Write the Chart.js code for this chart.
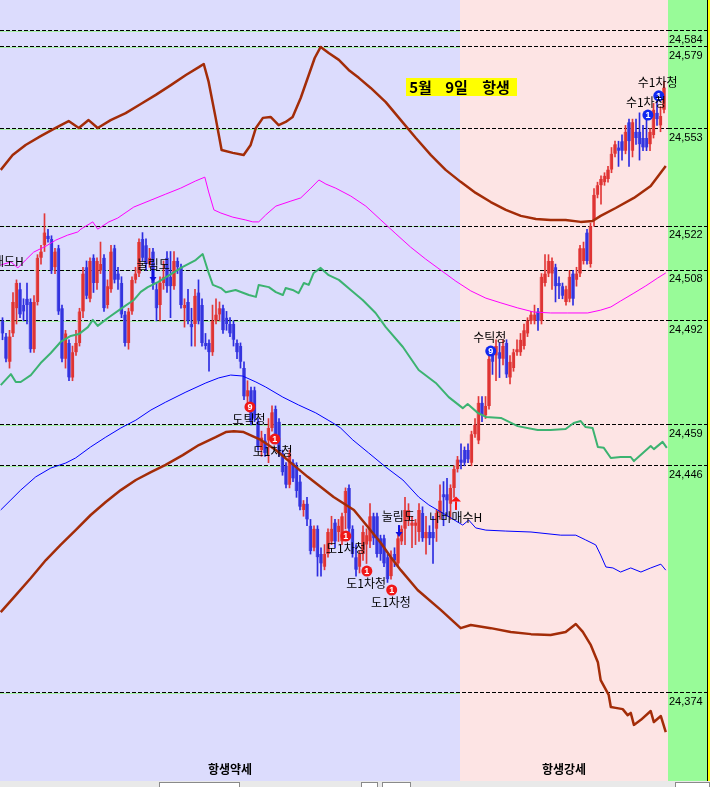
<!DOCTYPE html>
<html>
<head>
<meta charset="utf-8">
<script src="https://cdn.jsdelivr.net/npm/chart.js@4.4.1/dist/chart.umd.min.js"></script>
<style>
  html, body { margin: 0; padding: 0; background: #fff; overflow: hidden; }
  #wrap { width: 710px; height: 781px; }
  #tb { position: relative; width: 710px; height: 6px; background: #e9e9e9; overflow: hidden; }
  #tb span { position: absolute; top: 1px; height: 8px; background: #fff; border: 1px solid #8a8a8a; box-sizing: border-box; }
</style>
</head>
<body>
<div id="wrap"><canvas id="chart" width="710" height="781"></canvas></div>
<div id="tb">
  <span style="left:159px;width:81px"></span>
  <span style="left:361px;width:17px"></span>
  <span style="left:382px;width:29px"></span>
  <span style="left:675px;width:35px"></span>
</div>
<script>
// candles, one per bar (index 0..189)
const opens = [24492,24487,24479,24488,24496,24502,24497,24499,24498,24483,24498,24512,24516,24519,24518,24509,24515,24496,24480,24485,
  24474,24482,24485,24495,24509,24499,24512,24504,24508,24512,24497,24502,24515,24507,24504,24494,24485,24495,24505,24507,
  24518,24516,24510,24514,24502,24497,24504,24512,24506,24503,24511,24509,24496,24498,24491,24491,24501,24497,24485,24485,
  24482,24492,24494,24496,24493,24491,24491,24485,24484,24477,24468,24470,24470,24460,24451,24454,24454,24458,24464,24460,
  24450,24446,24440,24447,24446,24441,24432,24434,24427,24420,24426,24418,24414,24418,24422,24428,24425,24422,24431,24439,
  24426,24417,24414,24418,24421,24422,24430,24430,24423,24423,24417,24411,24418,24415,24422,24426,24429,24427,24427,24425,
  24431,24423,24425,24425,24426,24431,24437,24437,24434,24439,24445,24448,24451,24451,24447,24456,24454,24466,24462,24465,
  24482,24481,24482,24480,24485,24474,24477,24482,24482,24484,24488,24492,24492,24495,24492,24504,24507,24507,24509,24504,
  24503,24498,24499,24507,24505,24507,24511,24520,24510,24524,24532,24535,24536,24537,24540,24545,24547,24549,24546,24555,
  24546,24552,24552,24550,24550,24548,24551,24558,24554,24559];
const highs = [24493,24488,24489,24501,24505,24504,24499,24504,24499,24500,24513,24516,24526,24521,24519,24515,24516,24497,24489,24486,
  24484,24489,24496,24509,24511,24512,24513,24512,24517,24513,24505,24516,24516,24509,24506,24495,24496,24506,24509,24518,
  24520,24518,24515,24515,24504,24506,24511,24514,24514,24514,24512,24510,24499,24502,24496,24502,24505,24499,24488,24486,
  24497,24499,24498,24497,24495,24493,24492,24486,24485,24479,24473,24471,24471,24461,24457,24456,24461,24465,24465,24461,
  24451,24447,24451,24448,24447,24443,24435,24436,24429,24427,24427,24420,24421,24426,24430,24429,24429,24431,24439,24440,
  24427,24421,24419,24427,24426,24434,24431,24431,24424,24424,24418,24419,24420,24424,24427,24436,24434,24430,24429,24434,
  24433,24430,24427,24430,24432,24440,24441,24442,24440,24446,24449,24453,24452,24453,24457,24461,24468,24468,24468,24481,
  24483,24486,24485,24486,24486,24481,24483,24486,24488,24491,24493,24495,24497,24496,24507,24513,24513,24512,24510,24506,
  24504,24503,24508,24508,24509,24516,24517,24521,24523,24534,24536,24538,24539,24541,24547,24549,24549,24551,24554,24556,
  24556,24556,24558,24554,24557,24553,24561,24562,24560,24568];
const lows = [24486,24479,24477,24487,24491,24493,24492,24491,24482,24482,24497,24510,24514,24517,24507,24507,24494,24479,24477,24473,
  24473,24481,24484,24493,24499,24498,24501,24502,24507,24495,24496,24501,24504,24502,24493,24484,24483,24494,24504,24506,
  24511,24508,24509,24502,24492,24492,24502,24501,24493,24502,24507,24496,24490,24491,24484,24484,24491,24484,24483,24476,
  24481,24491,24492,24488,24489,24487,24484,24480,24477,24467,24466,24459,24460,24451,24449,24449,24447,24457,24453,24449,
  24443,24439,24439,24441,24436,24432,24430,24427,24418,24419,24411,24411,24413,24417,24421,24420,24422,24421,24426,24425,
  24417,24411,24412,24416,24415,24420,24421,24417,24416,24414,24409,24410,24414,24414,24421,24421,24427,24420,24421,24422,
  24422,24418,24421,24415,24422,24429,24427,24430,24429,24436,24444,24445,24446,24447,24446,24455,24453,24460,24461,24464,
  24475,24473,24474,24478,24474,24472,24476,24481,24481,24483,24487,24491,24491,24489,24491,24503,24506,24502,24498,24499,
  24499,24497,24498,24497,24503,24506,24510,24510,24509,24522,24531,24529,24535,24536,24539,24544,24541,24543,24545,24541,
  24544,24548,24543,24546,24546,24546,24550,24554,24552,24558];
const closes = [24488,24480,24487,24498,24504,24494,24495,24497,24483,24498,24512,24514,24520,24518,24508,24514,24495,24480,24488,24474,
  24482,24485,24495,24507,24500,24511,24504,24511,24510,24496,24503,24514,24505,24505,24494,24485,24495,24505,24507,24517,
  24512,24510,24512,24504,24496,24504,24506,24503,24503,24511,24509,24497,24497,24492,24490,24500,24492,24485,24484,24482,
  24492,24494,24496,24489,24491,24488,24486,24482,24479,24468,24470,24460,24461,24452,24455,24450,24458,24463,24454,24450,
  24444,24440,24450,24442,24438,24433,24434,24429,24419,24426,24417,24415,24418,24425,24426,24422,24427,24430,24438,24426,
  24418,24413,24418,24425,24424,24430,24423,24418,24418,24415,24410,24417,24416,24423,24426,24432,24432,24428,24428,24432,
  24423,24425,24423,24423,24431,24435,24436,24435,24439,24445,24448,24447,24447,24448,24456,24459,24466,24462,24465,24480,
  24479,24484,24480,24484,24475,24479,24482,24483,24486,24489,24492,24494,24494,24492,24506,24507,24511,24511,24503,24503,
  24500,24502,24506,24499,24507,24515,24515,24511,24522,24532,24535,24537,24538,24540,24545,24548,24546,24546,24552,24549,
  24555,24550,24548,24547,24547,24552,24559,24556,24557,24566];

// indicator lines as [bar index, price]
const upperBand = [[-0.5,24539.9],[2.9,24544.6],[6.6,24547.8],[10.9,24550.6],[15.2,24553.2],[18.9,24555.4],[21.8,24553.2],[24.6,24555.7],
  [27.2,24553.2],[30.9,24555.7],[35.2,24557.9],[39.5,24560.8],[43.8,24563.7],[48.1,24566.8],[52.4,24570.0],[56.1,24572.5],[57.5,24573.5],
  [58.9,24567.8],[60.9,24556.4],[62.6,24546.2],[65.8,24545.3],[68.9,24544.6],[70.9,24547.8],[72.4,24553.2],[74.4,24556.4],[76.6,24556.7],
  [78.9,24554.1],[80.9,24555.1],[82.9,24556.7],[85.2,24562.7],[87.5,24570.0],[89.2,24575.4],[90.9,24578.9],[93.2,24577.0],[96.1,24574.8],
  [98.9,24571.6],[101.8,24569.1],[105.2,24565.9],[109.5,24561.4],[113.8,24555.7],[118.1,24550.0],[122.4,24544.6],[126.6,24539.9],
  [130.9,24536.1],[135.2,24532.6],[139.5,24529.7],[143.8,24527.2],[148.1,24525.3],[152.4,24524.3],[156.6,24524.0],[160.9,24524.0],
  [165.2,24523.4],[168.6,24523.7],[170.9,24525.3],[175.2,24527.8],[180.4,24531.0],[185.2,24534.8],[189.5,24541.1]];
const pinkLine = [[-0.5,24509.7],[2.4,24510.7],[4.4,24508.8],[6.6,24511.3],[8.9,24513.8],[12.4,24515.7],[15.2,24517.6],[18.6,24519.2],
  [21.5,24520.2],[22.4,24521.1],[25.8,24523.4],[27.2,24521.1],[30.4,24523.4],[32.9,24524.6],[37.5,24528.1],[42.4,24530.3],[46.6,24532.2],
  [50.9,24534.1],[55.2,24536.4],[57.8,24537.6],[58.9,24532.9],[60.4,24527.2],[62.4,24526.2],[65.8,24524.9],[69.5,24524.0],[71.5,24523.4],
  [73.2,24523.4],[75.2,24525.6],[78.1,24528.4],[82.4,24530.0],[85.2,24531.0],[88.1,24534.1],[90.4,24536.7],[92.4,24535.4],[95.2,24534.1],
  [99.5,24531.6],[103.8,24528.4],[108.1,24524.0],[112.4,24519.6],[116.6,24515.4],[120.9,24511.6],[125.2,24508.1],[129.5,24504.6],
  [133.8,24501.5],[138.1,24499.2],[142.4,24497.7],[147.2,24496.1],[151.8,24494.8],[156.6,24494.5],[161.5,24494.5],[167.2,24494.5],
  [170.9,24495.4],[173.8,24496.4],[176.6,24498.3],[180.4,24500.8],[183.8,24503.1],[187.2,24505.6],[189.5,24507.2]];
const greenLine = [[-0.5,24471.6],[2.4,24475.1],[3.8,24472.6],[5.2,24472.6],[8.1,24474.8],[10.9,24478.6],[13.8,24481.8],[16.6,24485.3],
  [19.5,24487.2],[21.8,24487.8],[24.4,24490.0],[25.8,24492.3],[27.2,24490.4],[30.1,24492.9],[33.8,24495.8],[37.5,24498.6],[39.5,24501.2],
  [41.5,24502.7],[44.4,24504.3],[47.2,24506.2],[51.5,24509.1],[55.2,24511.3],[57.2,24513.2],[58.9,24507.2],[60.1,24503.4],[62.4,24502.4],
  [63.8,24501.1],[66.6,24501.8],[70.4,24500.2],[72.4,24499.6],[73.2,24503.4],[76.1,24502.7],[78.1,24501.1],[80.1,24500.2],[80.9,24502.4],
  [82.9,24501.8],[84.6,24500.8],[86.1,24504.0],[87.5,24503.4],[88.9,24507.2],[90.9,24508.8],[93.2,24506.5],[96.1,24505.0],[99.5,24501.8],
  [102.9,24498.6],[106.6,24494.5],[109.5,24490.0],[114.4,24483.7],[118.9,24476.4],[123.8,24472.3],[127.5,24467.8],[131.5,24464.3],
  [132.9,24465.6],[135.8,24462.8],[138.1,24461.5],[142.4,24461.2],[147.2,24458.6],[152.9,24457.4],[156.6,24457.4],[160.9,24457.7],
  [163.2,24459.6],[165.2,24460.2],[166.6,24458.3],[168.6,24458.0],[170.1,24452.0],[171.8,24451.7],[173.8,24448.5],[176.6,24448.8],
  [179.5,24448.8],[180.4,24447.5],[185.2,24452.3],[186.1,24451.3],[188.6,24453.6],[189.8,24451.7]];
const blueLine = [[-0.5,24432.0],[2.4,24435.2],[5.2,24438.3],[9.5,24442.5],[13.8,24445.3],[18.1,24446.9],[20.9,24448.5],[25.2,24452.0],
  [29.5,24455.1],[33.8,24458.0],[38.1,24460.5],[42.4,24463.7],[46.6,24466.2],[52.4,24469.4],[58.1,24472.3],[61.8,24473.9],[65.2,24474.8],
  [68.6,24474.5],[72.4,24472.6],[75.2,24471.0],[80.1,24467.8],[84.6,24465.3],[89.5,24462.8],[94.4,24459.6],[96.6,24458.0],[100.1,24454.2],
  [104.6,24450.1],[109.5,24445.6],[114.4,24441.5],[118.9,24436.1],[121.8,24433.6],[125.8,24431.0],[131.5,24427.2],[133.2,24428.8],
  [135.2,24426.3],[138.1,24425.6],[143.8,24425.3],[151.0,24425.0],[159.5,24424.0],[163.8,24424.0],[166.6,24422.5],[169.5,24420.9],
  [170.9,24417.7],[172.4,24413.9],[174.4,24413.6],[176.6,24412.3],[179.5,24413.6],[182.4,24412.3],[185.2,24413.6],[188.1,24414.8],
  [189.5,24412.9]];
const lowerBand = [[-0.5,24399.6],[3.8,24405.0],[8.1,24410.4],[12.4,24416.1],[16.6,24420.9],[20.9,24425.6],[25.2,24430.4],[29.5,24434.5],
  [33.8,24438.3],[38.1,24441.5],[42.4,24444.0],[46.6,24446.3],[51.5,24449.4],[56.1,24452.6],[60.9,24455.1],[63.8,24456.7],[66.1,24457.0],
  [68.9,24456.7],[73.8,24454.2],[78.1,24451.0],[81.5,24447.8],[87.2,24442.5],[94.6,24436.1],[100.4,24432.0],[104.4,24426.6],[108.1,24421.5],
  [110.9,24417.1],[113.8,24412.9],[118.6,24406.6],[125.2,24400.3],[130.9,24394.5],[133.8,24395.5],[139.5,24394.5],[145.2,24393.3],
  [151.0,24392.6],[156.6,24392.3],[160.9,24393.3],[163.8,24395.8],[165.8,24393.3],[168.1,24389.1],[170.1,24383.7],[170.9,24378.0],
  [173.2,24373.3],[173.8,24369.5],[175.2,24369.2],[177.2,24368.8],[178.6,24366.9],[179.5,24367.6],[180.4,24363.8],[182.4,24365.4],
  [185.2,24368.2],[186.1,24364.7],[188.1,24366.6],[189.5,24361.5]];

const yTicks = [24584, 24579, 24553, 24522, 24508, 24492, 24459, 24446, 24374];
const zoneSplit = 130.7; // 항생약세 | 항생강세

// signals: [bar index, price, number]
const sellDots = [[70.7,24464.7,'9'],[77.8,24454.5,'1'],[98.1,24423.7,'1'],[104.1,24412.6,'1'],[111.2,24406.6,'1']];
const buyDots = [[139.5,24482.4,'9'],[184.4,24557.3,'1'],[187.5,24563.4,'1']];
const signalText = [
  ['도틱청',70.4,24460.6],['도1차청',77.2,24450.7],['도1차청',98.1,24419.9],['도1차청',103.9,24408.8],['도1차청',111.0,24402.8],
  ['수틱청',139.2,24486.6],['수1차청',183.8,24561.4],['수1차청',187.2,24567.8],
  ['눌림도',43.1,24510.0],['눌림도',113.1,24429.8],['나비매수H',129.5,24429.5]
];
// arrows: [bar index, tail price, tip price, colour]
const arrows = [[42.9,24508.6,24504.3,'#1010e0'],[113.2,24427.2,24423.4,'#1010e0'],[129.6,24432.0,24436.3,'#ff1010']];

const wickData = opens.map((o, i) => ({ x: i, y: [lows[i], highs[i]] }));
const bodyData = opens.map((o, i) => ({ x: i, y: [o, closes[i]] }));
const isUp = opens.map((o, i) => closes[i] >= o);

const bgPlugin = {
  id: 'bg',
  beforeDraw(chart) {
    const { ctx, chartArea: a, scales: { x, y } } = chart;
    const W = chart.width, H = chart.height;
    const xb = Math.round(x.getPixelForValue(zoneSplit));
    ctx.save();
    ctx.fillStyle = '#dcdcfd';
    ctx.fillRect(0, 0, xb, H);
    ctx.fillStyle = '#fde4e4';
    ctx.fillRect(xb, 0, a.right - xb, H);
    ctx.fillStyle = '#98fb98';
    ctx.fillRect(a.right, 0, W - a.right, H);
    ctx.fillStyle = '#ffff00';
    ctx.fillRect(W - 3, 0, 3, H);
    ctx.fillStyle = '#000';
    ctx.fillRect(W - 3, 0, 1, H);
    // light green under the dashes on the weak side
    ctx.strokeStyle = '#a6f0a6';
    ctx.lineWidth = 1;
    yTicks.forEach(v => {
      const py = Math.round(y.getPixelForValue(v)) + 0.5;
      ctx.beginPath(); ctx.moveTo(0, py); ctx.lineTo(xb, py); ctx.stroke();
    });
    ctx.fillStyle = '#000';
    ctx.font = 'bold 12px "Noto Sans CJK KR"';
    ctx.textAlign = 'center';
    ctx.textBaseline = 'middle';
    ctx.fillText('항생약세', xb / 2, H - 12);
    ctx.fillText('항생강세', (xb + a.right) / 2, H - 12);
    ctx.restore();
  }
};

function dot(ctx, px, py, n, col) {
  ctx.beginPath();
  ctx.arc(px, py, 5.5, 0, Math.PI * 2);
  ctx.fillStyle = col;
  ctx.fill();
  ctx.fillStyle = '#fff';
  ctx.font = 'bold 9px "Liberation Sans"';
  ctx.fillText(n, px, py + 0.5);
}

const markPlugin = {
  id: 'marks',
  afterDatasetsDraw(chart) {
    const { ctx, scales: { x, y } } = chart;
    ctx.save();
    ctx.textAlign = 'center';
    ctx.textBaseline = 'middle';
    arrows.forEach(([i, from, to, col]) => {
      const px = Math.round(x.getPixelForValue(i));
      const p0 = y.getPixelForValue(from), p1 = y.getPixelForValue(to);
      const dir = p1 > p0 ? 1 : -1;
      const hw = col === '#ff1010' ? 5 : 3.5;
      ctx.fillStyle = col;
      ctx.fillRect(px - 1, Math.min(p0, p1 - dir * 5), 2, Math.abs(p1 - dir * 5 - p0));
      ctx.beginPath();
      ctx.moveTo(px - hw, p1 - dir * 5);
      ctx.lineTo(px + hw, p1 - dir * 5);
      ctx.lineTo(px, p1);
      ctx.closePath();
      ctx.fill();
    });
    sellDots.forEach(([i, v, n]) => dot(ctx, x.getPixelForValue(i), y.getPixelForValue(v), n, '#f01818'));
    buyDots.forEach(([i, v, n]) => dot(ctx, x.getPixelForValue(i), y.getPixelForValue(v), n, '#1028f0'));
    ctx.fillStyle = '#000';
    ctx.font = '12px "Noto Sans CJK KR"';
    signalText.forEach(([t, i, v]) => ctx.fillText(t, x.getPixelForValue(i), y.getPixelForValue(v)));
    ctx.textAlign = 'right';
    ctx.fillText('매도H', x.getPixelForValue(6.1), y.getPixelForValue(24510.9));
    // title box
    ctx.fillStyle = '#ffff00';
    ctx.fillRect(406, 78, 111, 18);
    ctx.fillStyle = '#000';
    ctx.font = 'bold 15px "Noto Sans CJK KR"';
    ctx.textAlign = 'center';
    ctx.fillText('5월', 420.5, 87);
    ctx.fillText('9일', 456.5, 87);
    ctx.fillText('항생', 496, 87);
    ctx.restore();
  }
};

new Chart(document.getElementById('chart'), {
  type: 'bar',
  data: {
    datasets: [
      { type: 'line', data: upperBand.map(([x, y]) => ({ x, y })), borderColor: '#a32c08', borderWidth: 2.5, pointRadius: 0, order: 0 },
      { type: 'line', data: pinkLine.map(([x, y]) => ({ x, y })), borderColor: '#ff00ff', borderWidth: 1, pointRadius: 0, order: 0 },
      { type: 'line', data: greenLine.map(([x, y]) => ({ x, y })), borderColor: '#3cb371', borderWidth: 2, pointRadius: 0, order: 0 },
      { type: 'line', data: blueLine.map(([x, y]) => ({ x, y })), borderColor: '#0000ff', borderWidth: 1, pointRadius: 0, order: 0 },
      { type: 'line', data: lowerBand.map(([x, y]) => ({ x, y })), borderColor: '#a32c08', borderWidth: 2.5, pointRadius: 0, order: 0 },
      {
        type: 'bar', data: wickData, grouped: false, barThickness: 1, order: 2,
        backgroundColor: isUp.map(u => u ? '#e23838' : '#2c2ce0')
      },
      {
        type: 'bar', data: bodyData, grouped: false, barThickness: 3.4, order: 1, minBarLength: 1,
        backgroundColor: isUp.map(u => u ? '#de3434' : '#3434de'),
        borderColor: isUp.map(u => u ? '#ec6a6a' : '#6a6aec'),
        borderWidth: { left: 1, right: 0, top: 0, bottom: 0 },
        borderSkipped: false
      }
    ]
  },
  options: {
    responsive: false,
    animation: false,
    devicePixelRatio: 1,
    events: [],
    layout: { padding: 0 },
    elements: { line: { tension: 0, borderJoinStyle: 'round' } },
    plugins: { legend: { display: false }, tooltip: { enabled: false } },
    scales: {
      x: { type: 'linear', min: -0.714, max: 190.14, display: false, offset: false },
      y: {
        position: 'right',
        min: 24346,
        max: 24593.8,
        afterBuildTicks: s => { s.ticks = yTicks.map(v => ({ value: v })); },
        afterFit: s => { s.width = 42; s.paddingTop = 0; s.paddingBottom = 0; },
        border: { display: false, dash: [4, 2] },
        grid: {
          color: '#000', lineWidth: 1,
          drawTicks: true, tickLength: 42, tickColor: '#000', tickWidth: 1, tickBorderDash: [4, 2]
        },
        ticks: {
          padding: -41,
          labelOffset: 9,
          color: '#000',
          font: { family: '"Liberation Sans", Arial, sans-serif', size: 11 },
          callback: v => v.toLocaleString('en-US')
        }
      }
    }
  },
  plugins: [bgPlugin, markPlugin]
});
</script>
</body>
</html>
